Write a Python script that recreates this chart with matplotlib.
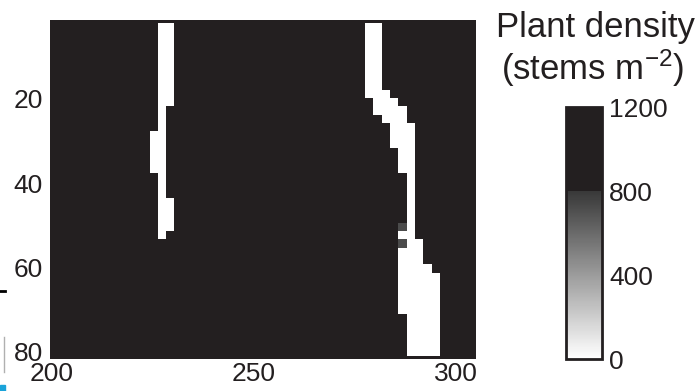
#!/usr/bin/env python3
"""Plant density map of a marsh reach with two bare channels."""

import matplotlib

matplotlib.use("Agg")
import matplotlib.pyplot as plt
import numpy as np
from matplotlib.colors import ListedColormap
from matplotlib.lines import Line2D
from matplotlib.patches import Rectangle


# survey grid
X_START = 199.6
Y_START = 2.0
CELL_X = 2.05
CELL_Y = 1.98
N_COLS = 51
N_ROWS = 40

VEGETATED = 1200
BARE = 0

# bare cells: (first row, last row, first col, last col)
LEFT_CHANNEL = [
    (0, 9, 13, 14),
    (10, 12, 13, 13),
    (13, 17, 12, 13),
    (18, 20, 13, 13),
    (21, 24, 13, 14),
    (25, 25, 13, 13),
]
RIGHT_CHANNEL = [
    (0, 7, 38, 39),
    (8, 8, 38, 40),
    (9, 9, 39, 41),
    (10, 10, 39, 42),
    (11, 11, 40, 42),
    (12, 14, 41, 43),
    (15, 17, 42, 43),
    (18, 24, 43, 43),
    (25, 25, 42, 43),
    (26, 26, 43, 44),
    (27, 28, 42, 44),
    (29, 29, 42, 45),
    (30, 34, 42, 46),
    (35, 39, 43, 46),
]
# sparse patches on the channel bank: (row, col, stems m^-2)
SPARSE_CELLS = [(24, 42, 720), (26, 42, 720)]

X_TICKS = [200, 250, 300]
Y_TICKS = [20, 40, 60, 80]
CBAR_TICKS = [0, 400, 800, 1200]

INK = "#231f20"
FONT = "Liberation Sans"


def density_grid():
    grid = np.full((N_ROWS, N_COLS), float(VEGETATED))
    for first_row, last_row, first_col, last_col in LEFT_CHANNEL + RIGHT_CHANNEL:
        grid[first_row:last_row + 1, first_col:last_col + 1] = BARE
    for row, col, value in SPARSE_CELLS:
        grid[row, col] = value
    return grid


def density_cmap():
    # white to dark grey up to 800, saturated above that
    levels = np.linspace(0, 1200, 240)
    ink = np.array([0x23, 0x1F, 0x20]) / 255
    colors = []
    for level in levels:
        if level < 800:
            g = 1.0 - 0.78 * level / 800
            colors.append((g, g, g))
        else:
            colors.append(tuple(ink))
    return ListedColormap(colors)


def main():
    plt.rcParams["font.family"] = [FONT, "DejaVu Sans"]
    plt.rcParams["mathtext.fontset"] = "custom"
    plt.rcParams["mathtext.rm"] = FONT
    plt.rcParams["mathtext.it"] = FONT
    plt.rcParams["mathtext.default"] = "regular"

    fig = plt.figure(figsize=(6.97, 3.91), dpi=100)
    ax = fig.add_axes([0.0717, 0.0818, 0.6112, 0.867])
    ax.set_facecolor(INK)

    x_end = X_START + N_COLS * CELL_X
    y_end = Y_START + N_ROWS * CELL_Y
    im = ax.imshow(
        density_grid(),
        cmap=density_cmap(),
        vmin=0,
        vmax=1200,
        extent=(X_START, x_end, y_end, Y_START),
        interpolation="nearest",
        aspect="auto",
    )
    ax.set_xlim(199.58, 304.9)
    ax.set_ylim(81.9, 1.2)
    ax.set_xticks(X_TICKS)
    ax.set_yticks(Y_TICKS)
    ax.tick_params(axis="both", length=0, labelsize=19, colors=INK)
    ax.tick_params(axis="x", pad=2.5)
    ax.tick_params(axis="y", pad=5)
    for spine in ax.spines.values():
        spine.set_visible(False)

    cax = fig.add_axes([0.812, 0.0818, 0.0517, 0.644])
    cbar = fig.colorbar(im, cax=cax, ticks=CBAR_TICKS)
    cbar.outline.set_linewidth(2)
    cbar.outline.set_edgecolor(INK)
    cax.tick_params(length=0, pad=5, labelsize=19, colors=INK)

    fig.text(0.855, 0.906, "Plant density", ha="center", va="baseline",
             fontsize=25, color=INK)
    fig.text(0.851, 0.795, r"(stems m$^{-2}$)", ha="center", va="baseline",
             fontsize=25, color=INK)

    # marks left over along the left edge of the panel
    fig.add_artist(Line2D([0, 5 / 697], [1 - 291 / 391] * 2, color="black",
                          linewidth=2, transform=fig.transFigure))
    fig.add_artist(Line2D([4 / 697] * 2, [1 - 337 / 391, 1 - 372 / 391],
                          color="#b0b0b0", linewidth=1, transform=fig.transFigure))
    fig.add_artist(Rectangle((0, 0), 5 / 697, 6 / 391, color="#1aa3d9",
                             transform=fig.transFigure))

    fig.savefig("out.png", dpi=100)
    plt.close(fig)


if __name__ == "__main__":
    main()
